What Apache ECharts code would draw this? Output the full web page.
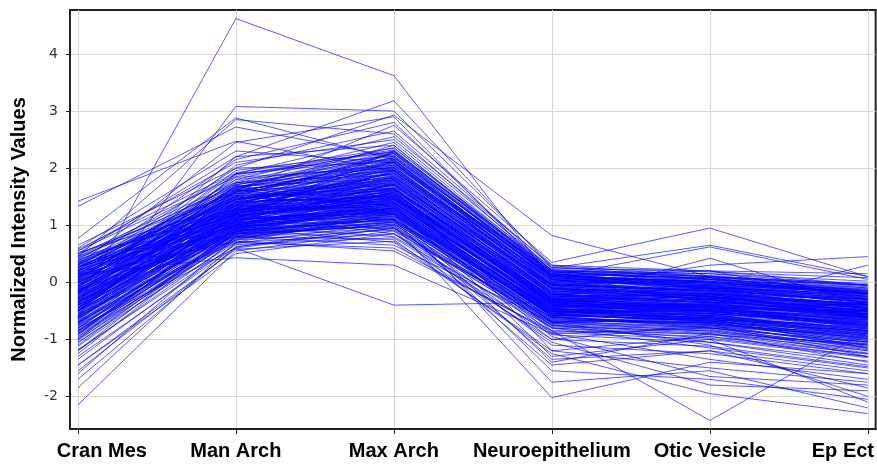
<!DOCTYPE html>
<html lang="en">
  <head>
    <meta charset="UTF-8" />
    <title>Normalized Intensity Values</title>
    <style>
      html, body { margin: 0; padding: 0; background: #fff; }
      #main { width: 877px; height: 464px; }
    </style>
  </head>
  <body>
    <script src="https://cdn.jsdelivr.net/npm/echarts@6/dist/echarts.min.js"></script>
    <div id="main"></div>
    <script>
      const categories = ['Cran Mes', 'Man Arch', 'Max Arch', 'Neuroepithelium', 'Otic Vesicle', 'Ep Ect']
      const yTicks = [-2, -1, 0, 1, 2, 3, 4]

      // bulk of the profiles
      const coreProfiles = [
        [-0.21, 1.12, 1.54, -0.32, -0.41, -0.55],
        [0.05, 1.35, 1.78, -0.12, -0.20, -0.38],
        [-0.48, 0.95, 1.22, -0.51, -0.62, -0.80],
        [0.22, 1.48, 2.01, 0.05, -0.08, -0.22],
        [-0.75, 0.82, 1.05, -0.66, -0.71, -0.98],
        [-0.10, 1.20, 1.60, -0.25, -0.35, -0.47],
        [0.31, 1.62, 1.95, 0.12, 0.02, -0.15],
        [-0.35, 1.05, 1.38, -0.41, -0.48, -0.66],
        [-0.92, 0.74, 0.92, -0.78, -0.85, -1.12],
        [0.12, 1.41, 1.83, -0.05, -0.15, -0.30],
        [-0.58, 0.98, 1.47, -0.28, -0.52, -0.71],
        [-0.02, 1.55, 1.70, -0.36, -0.22, -0.44],
        [0.42, 1.71, 2.18, 0.18, 0.10, -0.05],
        [-0.27, 1.28, 1.25, -0.55, -0.30, -0.62],
        [-1.05, 0.70, 0.85, -0.85, -0.95, -1.25],
        [-0.64, 1.10, 1.62, -0.20, -0.40, -0.52],
        [0.18, 0.92, 1.35, -0.48, -0.58, -0.35],
        [-0.41, 1.38, 1.91, -0.08, -0.26, -0.58],
        [-0.15, 0.88, 1.12, -0.62, -0.75, -0.90],
        [0.08, 1.66, 2.25, 0.08, -0.12, -0.28],
        [-0.83, 0.80, 1.30, -0.45, -0.68, -0.85],
        [-0.30, 1.46, 1.72, -0.18, -0.05, -0.40],
        [0.26, 1.18, 1.48, -0.30, -0.44, -0.62],
        [-0.52, 1.24, 1.85, -0.10, -0.32, -0.48],
        [-1.18, 0.66, 0.78, -0.92, -1.05, -1.38],
        [0.55, 1.85, 2.30, 0.22, 0.15, 0.02],
        [-0.06, 1.02, 1.18, -0.58, -0.66, -0.74],
        [-0.70, 0.90, 1.40, -0.38, -0.55, -0.95],
        [0.15, 1.52, 1.65, -0.22, -0.10, -0.20],
        [-0.38, 1.15, 1.55, -0.35, -0.48, -0.60],
        [-0.95, 0.78, 1.08, -0.70, -0.80, -1.05],
        [0.35, 1.32, 1.92, 0.02, -0.18, -0.32],
        [-0.22, 1.60, 2.05, 0.10, -0.02, -0.25],
        [-0.60, 0.85, 0.98, -0.72, -0.62, -0.88],
        [0.00, 1.25, 1.42, -0.42, -0.50, -0.65],
        [-0.45, 1.42, 1.98, 0.00, -0.15, -0.42],
        [0.48, 1.75, 1.88, -0.05, 0.05, -0.10],
        [-0.33, 0.96, 1.28, -0.60, -0.78, -0.92],
        [-0.12, 1.30, 1.75, -0.15, -0.28, -0.36],
        [-0.78, 1.00, 1.52, -0.30, -0.45, -0.75],
        [0.20, 1.08, 1.32, -0.50, -0.38, -0.55],
        [-0.55, 1.18, 1.68, -0.26, -0.36, -0.64],
        [-1.30, 0.62, 0.95, -0.80, -0.98, -1.30],
        [0.10, 1.58, 2.12, 0.15, -0.05, -0.18],
        [-0.25, 0.90, 1.20, -0.52, -0.60, -0.82],
        [-0.68, 1.35, 1.58, -0.33, -0.25, -0.50],
        [0.38, 1.45, 1.70, -0.12, -0.30, -0.45],
        [-0.05, 1.12, 1.95, -0.02, -0.20, -0.30],
        [-0.88, 0.86, 1.15, -0.62, -0.70, -1.00],
        [-0.18, 1.68, 1.82, -0.20, -0.12, -0.35],
        [0.28, 0.98, 1.45, -0.40, -0.55, -0.70],
        [-0.42, 1.22, 1.35, -0.48, -0.42, -0.58],
        [-1.45, 0.58, 0.72, -1.00, -1.12, -1.48],
        [0.02, 1.38, 1.62, -0.28, -0.35, -0.40],
        [-0.62, 1.06, 1.25, -0.58, -0.66, -0.78],
        [0.45, 1.55, 2.08, 0.10, -0.02, -0.12],
        [-0.28, 1.02, 1.50, -0.35, -0.52, -0.68],
        [-0.08, 1.48, 1.40, -0.45, -0.28, -0.52],
        [-0.72, 0.94, 1.75, -0.15, -0.38, -0.62],
        [0.14, 1.26, 1.55, -0.25, -0.46, -0.48],
        [-0.50, 0.82, 1.02, -0.75, -0.88, -1.10],
        [-0.36, 1.52, 2.20, 0.05, -0.10, -0.32],
        [0.30, 1.10, 1.22, -0.55, -0.48, -0.60],
        [-1.00, 0.76, 1.18, -0.55, -0.72, -1.02],
        [-0.16, 1.34, 1.88, -0.10, -0.24, -0.46],
        [0.58, 1.92, 2.35, 0.25, 0.18, 0.08],
        [-0.46, 1.08, 1.30, -0.46, -0.58, -0.72],
        [-0.85, 0.88, 1.38, -0.42, -0.60, -0.90],
        [0.06, 1.72, 2.02, -0.05, -0.08, -0.26],
        [-0.30, 1.16, 1.45, -0.38, -0.40, -0.56],
        [-0.12, 0.80, 0.65, -0.70, -0.58, -0.82],
        [0.25, 1.20, 0.85, -0.62, -0.72, -1.05],
        [-0.40, 1.62, 2.40, 0.18, 0.05, -0.15],
        [-0.65, 1.40, 2.28, 0.12, -0.18, -0.40],
        [0.10, 0.72, 0.55, -0.85, -0.90, -1.20],
        [-0.20, 1.80, 2.45, 0.20, 0.12, -0.08],
        [-0.90, 1.05, 1.85, -0.22, -0.42, -0.80],
        [0.40, 1.28, 1.10, -0.52, -0.62, -0.92],
        [-0.55, 0.70, 0.60, -0.88, -1.00, -1.32],
        [0.02, 1.90, 2.15, 0.00, 0.08, -0.18],
        [-0.32, 1.10, 2.30, 0.15, -0.10, -0.30],
        [-1.10, 0.92, 1.45, -0.50, -0.64, -1.15],
        [0.18, 1.62, 1.32, -0.35, -0.45, -0.52],
        [-0.45, 1.30, 0.90, -0.68, -0.70, -0.86],
        [0.65, 2.00, 2.10, 0.10, 0.20, 0.15],
        [-0.72, 0.98, 0.80, -0.80, -0.92, -1.08],
        [-0.14, 1.22, 1.66, -0.30, -0.38, -0.50],
        [0.08, 1.44, 1.90, -0.18, -0.30, -0.42],
        [-0.36, 1.00, 1.42, -0.44, -0.55, -0.68],
        [-0.58, 1.14, 1.52, -0.36, -0.46, -0.76],
        [0.20, 1.36, 1.76, -0.08, -0.14, -0.34],
        [-0.24, 1.58, 2.10, 0.02, -0.06, -0.28],
        [-0.80, 0.92, 1.26, -0.54, -0.64, -0.94],
        [0.32, 1.50, 1.62, -0.14, -0.26, -0.38],
        [-0.04, 1.18, 1.36, -0.40, -0.44, -0.58],
        [-0.44, 1.32, 1.70, -0.24, -0.34, -0.54],
        [0.12, 0.96, 1.24, -0.46, -0.60, -0.74],
        [-0.66, 1.20, 1.94, -0.12, -0.30, -0.60],
        [-0.18, 1.42, 1.48, -0.32, -0.18, -0.44],
        [0.24, 1.64, 2.16, 0.06, -0.04, -0.20],
        [-0.98, 0.84, 1.22, -0.64, -0.76, -1.10],
        [-0.32, 1.06, 1.58, -0.38, -0.50, -0.62],
        [0.04, 1.30, 1.28, -0.50, -0.52, -0.66],
        [-0.54, 1.26, 1.80, -0.18, -0.28, -0.50],
        [0.36, 1.40, 1.84, -0.04, -0.16, -0.30],
        [-0.10, 1.08, 1.50, -0.34, -0.42, -0.52],
        [-0.74, 0.96, 1.34, -0.50, -0.58, -0.84],
        [-0.26, 1.46, 1.92, -0.06, -0.22, -0.38],
        [0.16, 1.14, 1.40, -0.42, -0.36, -0.48],
        [-0.48, 0.90, 1.16, -0.56, -0.68, -0.96],
        [-0.02, 1.60, 1.78, -0.16, -0.08, -0.30],
        [-0.62, 1.16, 1.44, -0.40, -0.52, -0.70],
        [0.28, 1.26, 1.70, -0.20, -0.32, -0.44],
        [-0.38, 1.36, 2.06, 0.04, -0.12, -0.36],
        [-0.86, 1.02, 1.48, -0.46, -0.56, -0.88],
        [0.00, 1.52, 1.56, -0.26, -0.20, -0.40],
        [-0.20, 1.70, 2.22, 0.12, 0.00, -0.20],
        [-0.52, 1.48, 1.60, -0.30, -0.20, -0.62],
        [0.18, 1.80, 2.05, 0.20, 0.15, -0.05],
        [-0.40, 0.86, 1.05, -0.68, -0.80, -1.15],
        [-0.08, 1.96, 2.28, 0.22, 0.10, -0.02],
        [-0.70, 1.24, 2.12, 0.00, -0.22, -0.55],
        [0.44, 1.22, 1.56, -0.28, -0.40, -0.78],
        [-1.12, 0.80, 1.02, -0.76, -0.90, -1.26],
        [-0.26, 1.34, 1.30, -0.52, -0.44, -0.82],
        [0.06, 1.76, 2.36, 0.18, 0.06, -0.12],
        [-0.60, 0.94, 1.58, -0.40, -0.66, -1.00],
        [0.30, 1.66, 1.98, 0.08, -0.10, -0.24],
        [-0.34, 1.12, 1.10, -0.62, -0.54, -0.76],
        [-0.92, 1.10, 1.66, -0.32, -0.48, -0.86],
        [0.12, 1.50, 2.26, 0.14, -0.02, -0.16],
        [-0.18, 1.04, 1.34, -0.48, -0.70, -1.02],
        [-0.46, 1.56, 2.02, -0.02, -0.16, -0.46],
        [0.50, 1.58, 1.72, -0.02, 0.00, -0.22],
        [-0.76, 0.78, 0.96, -0.74, -0.84, -1.18],
        [-0.06, 1.28, 1.64, -0.22, -0.32, -0.56],
        [0.22, 1.00, 1.08, -0.58, -0.64, -0.86],
        [-0.56, 1.44, 1.86, -0.12, -0.24, -0.52],
        [-0.30, 1.88, 2.32, 0.16, 0.04, -0.20],
        [0.34, 1.16, 1.46, -0.36, -0.46, -0.64],
        [-1.02, 0.88, 1.32, -0.60, -0.74, -1.14],
        [-0.12, 1.40, 1.52, -0.30, -0.26, -0.48],
        [-0.40, 1.20, 1.78, -0.20, -0.36, -0.60],
        [0.14, 1.62, 1.90, 0.02, -0.06, -0.24],
        [-0.64, 1.02, 1.20, -0.56, -0.62, -0.90],
        [-0.22, 0.98, 1.62, -0.34, -0.50, -0.78],
        [0.26, 1.44, 2.10, 0.10, -0.06, -0.28],
        [-0.82, 1.18, 1.56, -0.38, -0.50, -0.80],
        [-0.02, 1.34, 1.46, -0.34, -0.40, -0.62],
        [0.40, 1.90, 2.22, 0.14, 0.08, -0.06],
        [-0.50, 1.00, 1.36, -0.50, -0.62, -0.84],
        [-0.14, 1.54, 1.96, -0.04, -0.14, -0.34],
        [-0.68, 0.90, 1.10, -0.66, -0.74, -1.04],
        [0.08, 1.22, 1.52, -0.32, -0.42, -0.56],
        [-0.36, 1.64, 2.18, 0.08, -0.04, -0.26],
        [-0.96, 0.96, 1.40, -0.52, -0.66, -0.98],
        [0.20, 1.30, 1.64, -0.16, -0.28, -0.40],
        [-0.28, 1.12, 1.26, -0.50, -0.56, -0.72],
        [-0.58, 1.30, 1.96, -0.08, -0.26, -0.50],
        [0.04, 0.88, 1.16, -0.56, -0.68, -0.90],
        [-0.44, 1.74, 2.26, 0.10, 0.00, -0.22],
        [0.52, 1.36, 1.80, -0.06, -0.12, -0.36],
        [-0.86, 0.84, 1.06, -0.72, -0.82, -1.20],
        [-0.16, 1.26, 1.38, -0.44, -0.38, -0.60],
        [-0.50, 1.52, 1.64, -0.26, -0.14, -0.44],
        [0.10, 1.06, 1.64, -0.30, -0.48, -0.66],
        [-0.70, 1.08, 1.72, -0.28, -0.42, -0.70],
        [-0.06, 1.84, 2.00, 0.06, 0.02, -0.18],
        [0.26, 1.56, 1.50, -0.24, -0.22, -0.46],
        [-0.40, 0.92, 1.08, -0.64, -0.72, -0.98],
        [-1.20, 0.74, 1.14, -0.70, -0.86, -1.24],
        [-0.20, 1.36, 2.14, 0.08, -0.08, -0.30],
        [0.32, 1.04, 1.28, -0.46, -0.52, -0.72],
        [-0.62, 1.28, 1.48, -0.36, -0.44, -0.68],
        [-0.10, 1.66, 2.30, 0.18, 0.06, -0.14],
        [-0.80, 1.04, 1.24, -0.58, -0.68, -0.96],
        [0.16, 1.46, 1.86, -0.10, -0.20, -0.38],
        [-0.34, 0.84, 1.44, -0.46, -0.64, -0.94],
        [-0.52, 1.60, 1.74, -0.22, -0.10, -0.42],
        [0.02, 1.14, 1.20, -0.54, -0.48, -0.64],
        [-0.74, 1.22, 2.04, -0.04, -0.24, -0.58],
        [0.46, 1.68, 1.96, 0.04, -0.04, -0.18],
        [-0.24, 0.94, 1.30, -0.54, -0.70, -1.08],
        [-0.04, 1.40, 1.82, -0.12, -0.22, -0.40],
        [-0.90, 0.80, 1.20, -0.60, -0.80, -1.16],
        [0.22, 1.74, 2.08, 0.12, 0.02, -0.16],
        [-0.46, 1.18, 1.40, -0.42, -0.50, -0.74],
        [-0.14, 1.00, 1.56, -0.38, -0.54, -0.76],
        [0.38, 1.58, 2.14, 0.12, 0.00, -0.18],
        [-0.60, 1.40, 1.50, -0.34, -0.30, -0.56],
        [-0.30, 1.24, 1.72, -0.22, -0.34, -0.52],
        [-1.06, 0.86, 1.12, -0.68, -0.78, -1.10]
      ]

      // the stray profiles that leave the band
      const outlierProfiles = [
        [1.42, 2.47, 1.95, 0.05, -0.20, -0.45],
        [1.33, 2.72, 2.20, 0.15, 0.08, -0.25],
        [0.77, 2.88, 2.15, -0.05, -0.30, -0.60],
        [-0.40, 4.62, 3.62, 0.05, -0.35, -0.55],
        [-0.60, 3.08, 3.00, 0.30, 0.10, -0.10],
        [0.45, 2.85, 2.60, 0.20, 0.00, -0.20],
        [-0.20, 2.20, 3.18, 0.25, 0.65, 0.10],
        [0.20, 2.00, 2.93, 0.82, 0.10, -0.05],
        [-0.50, 1.60, 2.75, 0.35, 0.95, 0.10],
        [0.30, 2.45, 2.90, 0.10, 0.62, 0.05],
        [-0.80, 0.60, -0.40, -0.35, -0.60, -0.85],
        [0.15, 0.43, 0.30, -0.90, -0.80, -1.05],
        [-2.15, 0.55, 0.90, -1.45, -1.20, -1.85],
        [-1.85, 0.70, 1.20, -1.75, -1.55, -2.20],
        [-1.70, 0.62, 1.00, -2.02, -1.40, -1.60],
        [-1.60, 0.80, 0.75, -1.25, -1.95, -2.30],
        [-1.45, 0.50, 0.85, -1.05, -1.80, -1.90],
        [0.10, 1.30, 1.55, -0.85, -2.42, -0.85],
        [-1.25, 0.90, 1.10, -1.55, -1.70, -2.05],
        [-0.30, 1.50, 1.35, -1.30, -1.00, -2.10],
        [-1.00, 1.20, 1.70, -1.20, -1.50, -1.75],
        [0.00, 1.00, 0.95, -1.10, -1.25, -1.60],
        [-0.70, 0.75, 1.25, -0.95, -1.65, -1.80],
        [0.35, 1.45, 1.80, -0.30, 0.42, -0.40],
        [-0.15, 1.25, 2.00, -0.10, 0.30, 0.45],
        [-0.90, 1.15, 1.60, -0.60, -0.40, 0.30],
        [0.55, 2.10, 2.50, 0.25, 0.20, -0.30],
        [-1.20, 0.95, 1.30, -0.70, -1.10, -2.00],
        [-0.50, 1.70, 1.20, -1.40, -0.90, -1.40],
        [0.50, 2.20, 2.40, 0.15, -0.10, -0.35],
        [-0.10, 2.05, 2.65, 0.28, 0.05, -0.20],
        [0.60, 2.30, 2.10, -0.10, -0.25, -0.50],
        [-0.35, 1.90, 2.55, 0.30, 0.20, -0.05],
        [0.25, 2.15, 2.80, 0.20, 0.10, -0.15],
        [-0.85, 0.95, 0.70, -1.20, -0.95, -1.30],
        [-1.35, 0.68, 1.05, -1.35, -1.20, -1.55],
        [-0.45, 1.10, 1.30, -0.90, -1.35, -1.70],
        [-1.55, 0.60, 0.95, -0.75, -1.05, -1.45],
        [0.05, 1.35, 1.20, -0.80, -1.15, -1.50],
        [-0.20, 0.85, 1.00, -1.00, -0.75, -1.30]
      ]

      const profiles = coreProfiles.concat(outlierProfiles)
      const catIdx = categories.map((c, i) => i)

      const chart = echarts.init(document.getElementById('main'))
      chart.setOption({
        animation: false,
        grid: {
          left: 70,
          right: 1,
          top: 10,
          bottom: 35,
          show: true,
          borderColor: '#222',
          borderWidth: 2
        },
        xAxis: {
          type: 'value',
          min: -0.05,
          max: 5.05,
          axisLine: { show: true, onZero: false, lineStyle: { color: '#222', width: 2 } },
          axisTick: { show: true, length: 5, customValues: catIdx, lineStyle: { color: '#222' } },
          axisLabel: {
            customValues: catIdx,
            margin: 12,
            formatter: (v) => {
              const i = Math.round(v)
              if (i === 0) return '{first|' + categories[i] + '}'
              if (i === categories.length - 1) return '{last|' + categories[i] + '}'
              return '{mid|' + categories[i] + '}'
            },
            rich: {
              first: { width: 138, align: 'right', fontSize: 20, fontWeight: 'bold', color: '#000', fontFamily: 'Liberation Sans' },
              mid: { fontSize: 20, fontWeight: 'bold', color: '#000', fontFamily: 'Liberation Sans' },
              last: { width: 112, align: 'left', fontSize: 20, fontWeight: 'bold', color: '#000', fontFamily: 'Liberation Sans' }
            }
          },
          splitLine: { show: true, lineStyle: { color: '#d8d8d8', width: 1 } }
        },
        yAxis: {
          type: 'value',
          min: -2.57,
          max: 4.77,
          name: 'Normalized Intensity Values',
          nameLocation: 'middle',
          nameGap: 41,
          nameTextStyle: {
            fontSize: 20,
            fontWeight: 'bold',
            color: '#000',
            fontFamily: 'Liberation Sans',
            padding: [0, 20, 0, 0]
          },
          axisLine: { show: true, onZero: false, lineStyle: { color: '#222', width: 2 } },
          axisTick: { show: true, length: 4, customValues: yTicks, lineStyle: { color: '#222' } },
          axisLabel: {
            customValues: yTicks,
            margin: 12,
            fontSize: 14,
            color: '#333',
            fontFamily: 'DejaVu Sans'
          },
          splitLine: { show: true, lineStyle: { color: '#d8d8d8', width: 1 } }
        },
        series: profiles.map((p) => ({
          type: 'line',
          data: p.map((v, i) => [i, v]),
          symbol: 'none',
          silent: true,
          lineStyle: { color: 'rgba(0, 0, 255, 0.65)', width: 1 }
        }))
      })
    </script>
  </body>
</html>
